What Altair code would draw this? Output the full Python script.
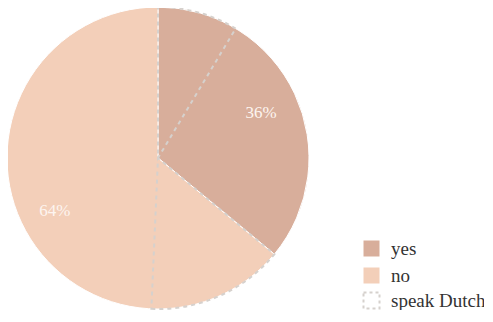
import altair as alt
import pandas as pd

# main answers
answers = ["yes", "no"]
shares = [36, 64]
share_labels = ["36%", "64%"]
answer_order = [1, 2]
answer_colors = ["#d8ae9b", "#f3cfb9"]

# sub-portions (who speak Dutch) within each answer
seg_names = ["yes-dutch", "yes-other", "no-dutch", "no-other"]
seg_values = [8.6, 27.4, 14.7, 49.3]
seg_group = ["speak Dutch", "other", "speak Dutch", "other"]
seg_order = [1, 2, 3, 4]

pie_df = pd.DataFrame({"answer": answers, "share": shares,
                       "label": share_labels, "order": answer_order})
seg_df = pd.DataFrame({"seg": seg_names, "value": seg_values,
                       "group": seg_group, "order": seg_order})

FONT = "'Liberation Serif', 'Times New Roman', serif"
R = 151

pie = alt.Chart(pie_df).mark_arc(radius=R, stroke="white", strokeWidth=1).encode(
    theta=alt.Theta("share:Q", stack=True),
    color=alt.Color(
        "answer:N",
        scale=alt.Scale(domain=answers, range=answer_colors),
        legend=alt.Legend(
            title=None, orient="none", legendX=354, legendY=231,
            symbolType="square", symbolSize=256, symbolStrokeWidth=0,
            labelFont=FONT, labelFontSize=19, labelColor="#333333",
            rowPadding=7, labelOffset=10, padding=0,
        ),
    ),
    order=alt.Order("order:Q"),
)

text = alt.Chart(pie_df).mark_text(
    radius=114, dy=4, font=FONT, fontSize=17, color="#fdf5f0"
).encode(
    theta=alt.Theta("share:Q", stack=True),
    order=alt.Order("order:Q"),
    text="label:N",
)

overlay = alt.Chart(seg_df).mark_arc(
    radius=R, fill="transparent", strokeWidth=2, strokeDash=[4, 4]
).encode(
    theta=alt.Theta("value:Q", stack=True),
    order=alt.Order("order:Q"),
    stroke=alt.condition(
        alt.datum.group == "speak Dutch",
        alt.Stroke(
            "group:N",
            scale=alt.Scale(domain=["speak Dutch"], range=["#d6d1cd"]),
            legend=alt.Legend(
                title=None, orient="none", legendX=354, legendY=283,
                symbolType="square", symbolSize=256, symbolStrokeWidth=2,
                symbolDash=[3, 3], symbolFillColor="transparent",
                labelFont=FONT, labelFontSize=19, labelColor="#333333",
                labelOffset=10, padding=0,
            ),
        ),
        alt.value("transparent"),
    ),
)

chart = alt.layer(pie, overlay, text).properties(
    width=300, height=300,
    autosize=alt.AutoSizeParams(type="none"),
    padding={"left": 0, "top": 0, "right": 176, "bottom": 2},
).configure(font=FONT).configure_legend(
    labelFont=FONT, labelFontSize=19
).configure_view(stroke=None)

chart.save("out.html", embed_options={"renderer": "svg", "actions": False})
